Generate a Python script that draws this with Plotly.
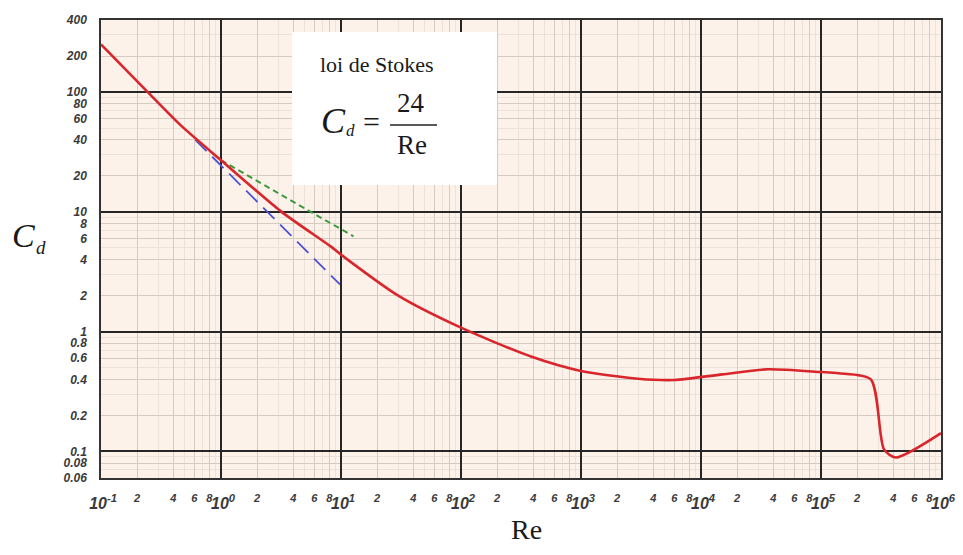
import plotly.graph_objects as go

# ---------------- data ----------------
re_curve = [0.1, 0.25, 0.46, 1.0, 3.16, 8.3, 10, 30, 100, 383, 1000, 3000, 6000,
            1.5e4, 3.6e4, 1e5, 1.4e5, 2.6e5, 3.35e5, 4.2e5, 1e6]
cd_curve = [250, 98, 53, 27, 10.1, 5.1, 4.4, 2.0, 1.08, 0.62, 0.47, 0.405, 0.395,
            0.44, 0.485, 0.46, 0.45, 0.40, 0.104, 0.089, 0.142]

re_stokes = [0.61, 9.8]
cd_stokes = [40, 2.48]

re_green = [1.0, 12.7]
cd_green = [27, 6.25]

x_decades = [1e-1, 1e0, 1e1, 1e2, 1e3, 1e4, 1e5, 1e6]
x_decade_text = ["10<sup>-1</sup>", "10<sup>0</sup>", "10<sup>1</sup>", "10<sup>2</sup>",
                 "10<sup>3</sup>", "10<sup>4</sup>", "10<sup>5</sup>", "10<sup>6</sup>"]
x_sub_mult = [2, 4, 6, 8]
x_faint_mult = [3, 5, 7, 9]

y_tick_vals = [400, 200, 100, 80, 60, 40, 20, 10, 8, 6, 4, 2, 1,
               0.8, 0.6, 0.4, 0.2, 0.1, 0.08, 0.06]
y_tick_text = ["400", "200", "100", "80", "60", "40", "20", "10", "8", "6", "4", "2", "1",
               "0.8", "0.6", "0.4", "0.2", "0.1", "0.08", "0.06"]
y_decades = [0.1, 1, 10, 100]
y_faint = [0.07, 0.09, 0.3, 0.5, 0.7, 0.9, 3, 5, 7, 9, 30, 50, 70, 90, 300]

# ---------------- layout geometry ----------------
# the page shows the figure offset by the 8px body margin
OFF = 8
W, H = 947, 539
PLOT_L, PLOT_R, PLOT_T, PLOT_B = 101, 941, 20, 478   # plot area in window pixels
L, T = PLOT_L - OFF, PLOT_T - OFF
R = W - (PLOT_R - OFF)
B = H - (PLOT_B - OFF)
PW, PH = PLOT_R - PLOT_L, PLOT_B - PLOT_T


def px(x):
    return (x - PLOT_L) / PW


def py(y):
    return (PLOT_B - y) / PH


xsub_vals, xsub_text = [], []
for d in x_decades[:-1]:
    for m in x_sub_mult:
        xsub_vals.append(d * m)
        xsub_text.append(str(m))
x_minor = [d * m for d in x_decades[:-1] for m in x_faint_mult]

fig = go.Figure()

fig.add_trace(go.Scatter(x=re_stokes, y=cd_stokes, mode="lines",
                         line=dict(color="#4a52d6", width=1.8, dash="16px,8px"),
                         hoverinfo="skip", showlegend=False))
fig.add_trace(go.Scatter(x=re_green, y=cd_green, mode="lines",
                         line=dict(color="#3c9a3c", width=2, dash="6px,4px"),
                         hoverinfo="skip", showlegend=False))
fig.add_trace(go.Scatter(x=re_curve, y=cd_curve, mode="lines",
                         line=dict(color="#d8262c", width=2.6, shape="spline", smoothing=0.7),
                         hoverinfo="skip", showlegend=False))
# empty trace to carry the overlay axes (black decade grid + decade labels)
fig.add_trace(go.Scatter(x=[], y=[], xaxis="x2", yaxis="y2", showlegend=False))


def tf(size):
    return dict(family="Liberation Sans", size=size, color="#3a3a3a", style="italic", weight="bold")


YR = [-1.2218, 2.6021]
fig.update_layout(
    width=W, height=H,
    margin=dict(l=L, r=R, t=T, b=B),
    paper_bgcolor="white",
    plot_bgcolor="#fdf2ea",
    showlegend=False,
    xaxis=dict(type="log", range=[-1, 6], tickmode="array", tickvals=xsub_vals, ticktext=xsub_text,
               tickfont=tf(11), tickangle=0, automargin=False,
               showgrid=True, gridcolor="#d6cbc2", gridwidth=1,
               showline=True, linecolor="#333", linewidth=1.5, mirror=True,
               ticks="", ticklabelstandoff=9, zeroline=False,
               minor=dict(tickmode="array", tickvals=x_minor, showgrid=True,
                          gridcolor="#ece2d9", gridwidth=1)),
    yaxis=dict(type="log", range=YR, tickmode="array", tickvals=y_tick_vals,
               ticktext=y_tick_text, tickfont=tf(12), automargin=False,
               showgrid=True, gridcolor="#d6cbc2",
               gridwidth=1, showline=True, linecolor="#333", linewidth=1.5, mirror=True,
               ticks="", ticklabelstandoff=10, zeroline=False,
               minor=dict(tickmode="array", tickvals=y_faint, showgrid=True,
                          gridcolor="#ece2d9", gridwidth=1)),
    xaxis2=dict(type="log", range=[-1, 6], overlaying="x", anchor="y2", side="bottom",
                tickmode="array", tickvals=x_decades, ticktext=x_decade_text,
                tickfont=tf(16), tickangle=0, automargin=False, ticklabelstandoff=14,
                ticklabelshift=2, ticklabeloverflow="allow",
                showticklabels=True, showgrid=True, gridcolor="#262626",
                gridwidth=1.5, showline=False, ticks="", zeroline=False),
    yaxis2=dict(type="log", range=YR, overlaying="y", anchor="x2", automargin=False,
                tickmode="array", tickvals=y_decades, showticklabels=False, showgrid=True,
                gridcolor="#262626", gridwidth=1.5, showline=False, ticks="", zeroline=False),
)

# white formula box
fig.add_shape(type="rect", xref="paper", yref="paper",
              x0=px(292), x1=px(497), y0=py(185), y1=py(32),
              fillcolor="white", line=dict(width=0), layer="above")
# fraction bar
fig.add_shape(type="line", xref="paper", yref="paper",
              x0=px(390), x1=px(437), y0=py(125), y1=py(125),
              line=dict(color="#222", width=1.5), layer="above")

serif = "Liberation Serif"


def ann(x, y, text, size, xanchor="center"):
    fig.add_annotation(x=px(x), y=py(y), xref="paper", yref="paper", text=text,
                       showarrow=False, xanchor=xanchor, yanchor="middle",
                       font=dict(family=serif, size=size, color="#1a1a1a"))


ann(377, 64, "loi de Stokes", 22)
ann(333, 121, "<i>C</i>", 36)
ann(350, 131, "<i>d</i>", 17)
ann(371, 121, "=", 30)
ann(411, 103, "24", 27)
ann(412, 145, "Re", 27)

# axis titles
ann(23, 235, "<i>C</i>", 34)
ann(41, 247, "<i>d</i>", 19)
ann(526, 529, "Re", 28)

fig.write_html("out.html")
